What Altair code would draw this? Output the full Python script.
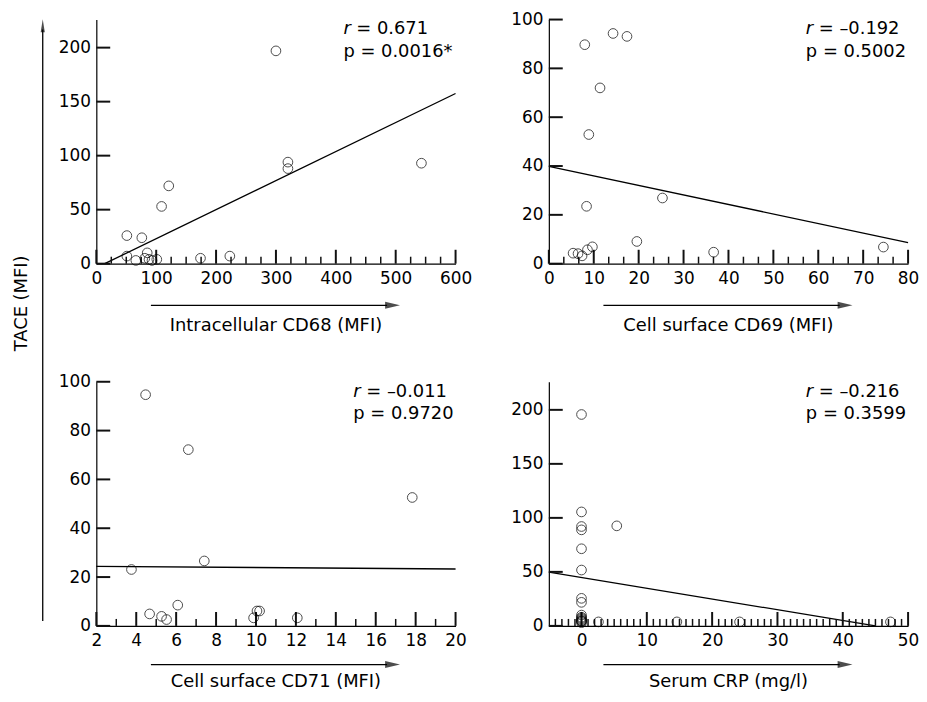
import altair as alt
import pandas as pd

FONT = "DejaVu Sans"
W, H = 362, 246

# ---- data ----
cd68_x = [300, 320, 320, 543, 121, 109, 51, 76, 51, 66, 85, 81, 88, 93, 101, 174, 223]
cd68_y = [197, 94, 88, 93, 72, 53, 26, 24, 7, 3, 10, 5, 4, 3, 4, 5, 7]
cd68_line_x = [14, 600]
cd68_line_y = [0, 157.5]

cd69_x = [14.3, 17.4, 8.0, 11.4, 8.9, 25.3, 8.4, 19.6, 36.7, 74.5, 5.4, 6.5, 7.4, 8.6, 9.7]
cd69_y = [94.3, 93.1, 89.7, 72.0, 52.9, 26.9, 23.5, 9.1, 4.7, 6.8, 4.3, 4.1, 3.2, 5.7, 6.9]
cd69_line_x = [0, 80]
cd69_line_y = [39.9, 8.6]

cd71_x = [4.47, 6.61, 17.83, 7.41, 3.76, 6.08, 4.67, 5.27, 5.52, 9.88, 10.05, 10.18, 12.07]
cd71_y = [94.7, 72.2, 52.6, 26.6, 23.1, 8.5, 4.9, 3.9, 2.6, 3.3, 6.1, 6.1, 3.3]
cd71_line_x = [2, 20]
cd71_line_y = [24.4, 23.3]

crp_x = [0, 0, 0, 0, 0, 0, 0, 0, 0, 0, 0, 0, 0, 0, 0, 0, 5.4, 2.6, 14.6, 24.2, 47.3]
crp_y = [195.7, 105.5, 92, 88.9, 71.4, 51.7, 25.5, 21.8, 10, 8, 7, 6, 5, 4.5, 4, 3, 92.6, 3.7, 3.7, 3.7, 3.7]
crp_line_x = [-5, 45]
crp_line_y = [49.8, 0]

# tick values
cd68_xmaj = [0, 100, 200, 300, 400, 500, 600]
cd68_xmin = [25, 50, 75, 125, 150, 175, 225, 250, 275, 325, 350, 375, 425, 450, 475, 525, 550, 575]
tace_ymaj_big = [0, 50, 100, 150, 200]
cd69_xmaj = [0, 10, 20, 30, 40, 50, 60, 70, 80]
cd69_xmin = [m + d for m in range(0, 80, 10) for d in (10 / 3, 20 / 3)]
tace_ymaj_small = [0, 20, 40, 60, 80, 100]
cd71_xmaj = [2, 4, 6, 8, 10, 12, 14, 16, 18, 20]
cd71_xmin = [3, 5, 7, 9, 11, 13, 15, 17, 19]
crp_xmaj = [0, 10, 20, 30, 40, 50]
crp_xmin = [v for v in range(-4, 50) if v % 10 != 0]


def panel(px, py, lx, ly, xdom, ydom, xmaj, xmin, ymaj, r_txt, p_txt, xtitle, ann_x,
          arrow_dy, title_dy, tace=False):
    xs = alt.Scale(domain=xdom, nice=False, zero=False)
    ys = alt.Scale(domain=ydom, nice=False, zero=False)
    xax = alt.Axis(values=xmaj, ticks=False, grid=False, domainColor="black",
                   domainWidth=1.2, labelFont=FONT, labelFontSize=17, labelColor="black",
                   labelPadding=7, labelFlush=False, labelOverlap=False, title=None)
    yax = alt.Axis(values=ymaj, ticks=False, grid=False, domainColor="black",
                   domainWidth=1.2, labelFont=FONT, labelFontSize=17, labelColor="black",
                   labelPadding=6, labelOverlap=False, title=None)

    def X(f):
        return alt.X(f, type="quantitative", scale=xs, axis=xax)

    def Y(f):
        return alt.Y(f, type="quantitative", scale=ys, axis=yax)

    pts = alt.Chart(pd.DataFrame({"x": px, "y": py})).mark_point(
        shape="circle", filled=False, color="black", size=95, strokeWidth=1
    ).encode(x=X("x"), y=Y("y"))

    line = alt.Chart(pd.DataFrame({"x": lx, "y": ly})).mark_line(
        color="black", strokeWidth=1.3
    ).encode(x=X("x"), y=Y("y"))

    # inward-pointing ticks, positioned through the panel's scales
    xt_major = alt.Chart(pd.DataFrame({"tx": xmaj})).mark_rule(color="#111111", strokeWidth=2).encode(
        x=X("tx"), y=alt.value(H), y2=alt.value(H - 14))
    xt_minor = alt.Chart(pd.DataFrame({"tx": xmin})).mark_rule(color="#111111", strokeWidth=1.5).encode(
        x=X("tx"), y=alt.value(H), y2=alt.value(H - 7))
    yt = alt.Chart(pd.DataFrame({"ty": ymaj})).mark_rule(color="#111111", strokeWidth=2).encode(
        y=Y("ty"), x=alt.value(0), x2=alt.value(14))

    one = pd.DataFrame({"a": [0]})
    r_it = alt.Chart(one).mark_text(text="r", font=FONT, fontSize=18, fontStyle="italic",
                                    align="left", baseline="alphabetic", color="black").encode(
        x=alt.value(ann_x), y=alt.value(15))
    r_rest = alt.Chart(one).mark_text(text=r_txt, font=FONT, fontSize=18,
                                      align="left", baseline="alphabetic", color="black").encode(
        x=alt.value(ann_x + 13), y=alt.value(15))
    p_t = alt.Chart(one).mark_text(text=p_txt, font=FONT, fontSize=18,
                                   align="left", baseline="alphabetic", color="black").encode(
        x=alt.value(ann_x), y=alt.value(38))

    arr_line = alt.Chart(one).mark_rule(color="black", strokeWidth=1.3).encode(
        x=alt.value(55), x2=alt.value(293), y=alt.value(H + arrow_dy))
    arr_head = alt.Chart(one).mark_point(shape="M1,0L-1,-0.47L-1,0.47Z", filled=True, color="black",
                                         size=225, strokeWidth=0).encode(
        x=alt.value(298.5), y=alt.value(H + arrow_dy))
    title = alt.Chart(one).mark_text(text=xtitle, font=FONT, fontSize=18, align="center",
                                     baseline="middle", color="black").encode(
        x=alt.value(W / 2), y=alt.value(H + title_dy))

    layers = [line, xt_major, xt_minor, yt, pts, r_it, r_rest, p_t, arr_line, arr_head, title]
    if tace:
        t_line = alt.Chart(one).mark_rule(color="black", strokeWidth=1.3).encode(
            x=alt.value(-54), y=alt.value(10), y2=alt.value(606))
        t_head = alt.Chart(one).mark_point(shape="M0,-1L0.32,1L-0.32,1Z", filled=True, color="black",
                                           size=169, strokeWidth=0).encode(
            x=alt.value(-54), y=alt.value(6.2))
        t_title = alt.Chart(one).mark_text(text="TACE (MFI)", font=FONT, fontSize=18, angle=270,
                                           align="center", baseline="middle", color="black").encode(
            x=alt.value(-75), y=alt.value(286))
        layers += [t_line, t_head, t_title]
    return alt.layer(*layers).properties(width=W, height=H)


p1 = panel(cd68_x, cd68_y, cd68_line_x, cd68_line_y, [0, 600], [0, 226], cd68_xmaj, cd68_xmin,
           tace_ymaj_big, "= 0.671", "p = 0.0016*", "Intracellular CD68 (MFI)", 249, 42, 63, tace=True)
p2 = panel(cd69_x, cd69_y, cd69_line_x, cd69_line_y, [0, 80], [0, 100], cd69_xmaj, cd69_xmin,
           tace_ymaj_small, "= –0.192", "p = 0.5002", "Cell surface CD69 (MFI)", 259, 42, 63)
p3 = panel(cd71_x, cd71_y, cd71_line_x, cd71_line_y, [2, 20], [0, 100], cd71_xmaj, cd71_xmin,
           tace_ymaj_small, "= –0.011", "p = 0.9720", "Cell surface CD71 (MFI)", 259, 39, 57)
p4 = panel(crp_x, crp_y, crp_line_x, crp_line_y, [-5, 50], [0, 226], crp_xmaj, crp_xmin,
           tace_ymaj_big, "= –0.216", "p = 0.3599", "Serum CRP (mg/l)", 259, 39, 57)

chart = alt.concat(p1, p2, p3, p4, columns=2, spacing={"row": 119, "column": 94},
                   bounds="flush").properties(
    padding={"left": 5, "top": 0, "right": 0, "bottom": 0},
    background="white",
).configure_view(stroke=None)

chart.save("out.html", embed_options={"renderer": "svg", "actions": False})
